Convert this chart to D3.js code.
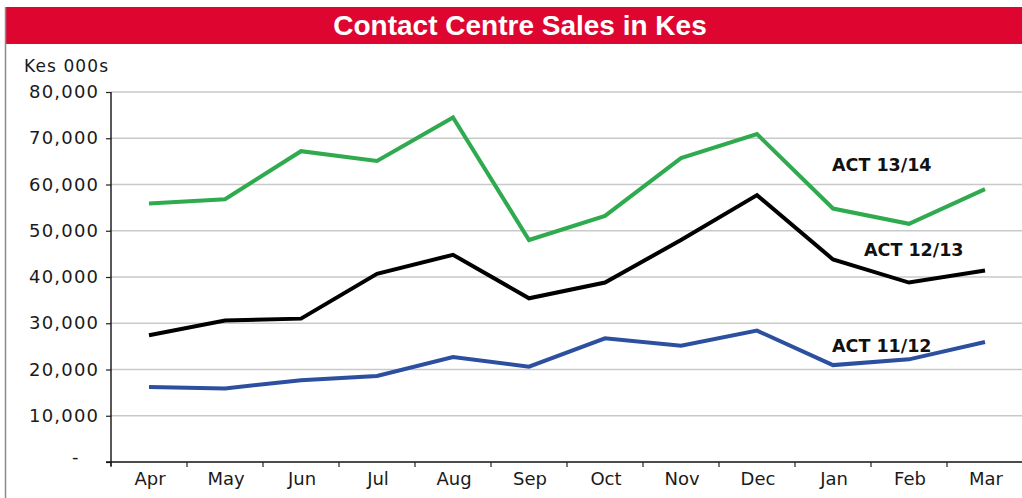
<!DOCTYPE html>
<html>
<head>
<meta charset="utf-8">
<script src="https://cdn.jsdelivr.net/npm/d3@7"></script>
<style>
  html, body { margin: 0; padding: 0; background: #fff; }
  svg { display: block; }
</style>
</head>
<body>
<svg id="chart" width="1022" height="498"></svg>
<script>
const months = ["Apr","May","Jun","Jul","Aug","Sep","Oct","Nov","Dec","Jan","Feb","Mar"];
const act1314 = [55900, 56800, 67200, 65100, 74500, 48000, 53200, 65700, 70900, 54800, 51500, 59000];
const act1213 = [27400, 30600, 31000, 40700, 44800, 35400, 38800, 48000, 57700, 43800, 38800, 41400];
const act1112 = [16200, 15900, 17700, 18600, 22700, 20600, 26750, 25150, 28400, 20950, 22200, 25950];
const yTicks = [0, 10000, 20000, 30000, 40000, 50000, 60000, 70000, 80000];
const seriesNames = ["ACT 13/14", "ACT 12/13", "ACT 11/12"];

const svg = d3.select("#chart");
const W = 1022, H = 498;
const plotLeft = 111, plotRight = 1023, plotTop = 92, plotBottom = 462;

// title bar
svg.append("rect").attr("x", 6).attr("y", 7).attr("width", W - 6).attr("height", 37).attr("fill", "#DE0630");
svg.append("text").attr("x", 520).attr("y", 35).attr("text-anchor", "middle")
  .attr("font-family", "Liberation Sans, Arial, sans-serif").attr("font-weight", "bold")
  .attr("font-size", 28).attr("fill", "#fff").text("Contact Centre Sales in Kes");
// left border
svg.append("line").attr("x1", 5.5).attr("x2", 5.5).attr("y1", 7).attr("y2", H)
  .attr("stroke", "#8a8a8a").attr("stroke-width", 1.5);

const x = d3.scaleBand().domain(months).range([plotLeft, plotRight]);
const y = d3.scaleLinear().domain([0, 80000]).range([plotBottom, plotTop]);

// gridlines
svg.append("g").selectAll("line").data(yTicks.filter(d => d > 0)).join("line")
  .attr("x1", plotLeft).attr("x2", W).attr("y1", d => y(d)).attr("y2", d => y(d))
  .attr("stroke", "#c9c9c9").attr("stroke-width", 1.3);

// y axis
const yAxis = d3.axisLeft(y).tickValues(yTicks).tickSize(5).tickFormat("");
const gy = svg.append("g").attr("transform", `translate(${plotLeft},0)`).call(yAxis);
gy.select(".domain").remove();
gy.selectAll(".tick line").attr("stroke", "#222").attr("stroke-width", 1.2);
svg.append("line").attr("x1", plotLeft).attr("x2", plotLeft).attr("y1", plotTop).attr("y2", plotBottom + 4)
  .attr("stroke", "#111").attr("stroke-width", 1.4);

// y labels (accounting style, left aligned)
svg.append("g").selectAll("text").data(yTicks).join("text")
  .attr("x", d => d === 0 ? 72 : 29)
  .attr("y", d => y(d) + (d === 0 ? 1 : 6))
  .attr("font-family", "DejaVu Sans, sans-serif").attr("font-size", 18)
  .attr("letter-spacing", 1.2).attr("fill", "#1a1a1a")
  .text(d => d === 0 ? "-" : d3.format(",")(d));

svg.append("text").attr("x", 24).attr("y", 72)
  .attr("font-family", "DejaVu Sans, sans-serif").attr("font-size", 17)
  .attr("letter-spacing", 1.1).attr("fill", "#1a1a1a").text("Kes 000s");

// x axis
const xAxis = d3.axisBottom(x).tickSize(0).tickPadding(0);
const gx = svg.append("g").attr("transform", `translate(0,${plotBottom})`).call(xAxis);
gx.select(".domain").remove();
gx.selectAll(".tick text").attr("font-family", "DejaVu Sans, sans-serif").attr("font-size", 18)
  .attr("fill", "#1a1a1a").attr("dy", null).attr("y", 23).attr("dx", 1);
svg.append("line").attr("x1", plotLeft - 5).attr("x2", W).attr("y1", plotBottom).attr("y2", plotBottom)
  .attr("stroke", "#111").attr("stroke-width", 1.4);
const boundaries = months.map(m => x(m)).concat([x(months[months.length - 1]) + x.bandwidth()]);
svg.append("g").selectAll("line").data(boundaries).join("line")
  .attr("x1", d => d).attr("x2", d => d).attr("y1", plotBottom).attr("y2", plotBottom + 5)
  .attr("stroke", "#222").attr("stroke-width", 1.2);

// lines
const line = d3.line().x((d, i) => x(months[i]) + x.bandwidth() / 2).y(d => y(d));
const series = [
  { name: seriesNames[0], values: act1314, color: "#2FAA4E" },
  { name: seriesNames[1], values: act1213, color: "#000000" },
  { name: seriesNames[2], values: act1112, color: "#2C4F9F" }
];
svg.append("g").selectAll("path").data(series).join("path")
  .attr("d", d => line(d.values)).attr("fill", "none")
  .attr("stroke", d => d.color).attr("stroke-width", 4)
  .attr("stroke-linejoin", "miter").attr("stroke-linecap", "butt");

// series labels
const labelPos = [
  { name: seriesNames[0], month: "Jan", value: 62900, dx: 37 },
  { name: seriesNames[1], month: "Jan", value: 44500, dx: 69 },
  { name: seriesNames[2], month: "Jan", value: 23750, dx: 37 }
];
svg.append("g").selectAll("text").data(labelPos).join("text")
  .attr("x", d => x(d.month) + d.dx)
  .attr("y", d => y(d.value))
  .attr("font-family", "DejaVu Sans, sans-serif").attr("font-weight", "bold")
  .attr("font-size", 17.5).attr("fill", "#111").text(d => d.name);
</script>
</body>
</html>
